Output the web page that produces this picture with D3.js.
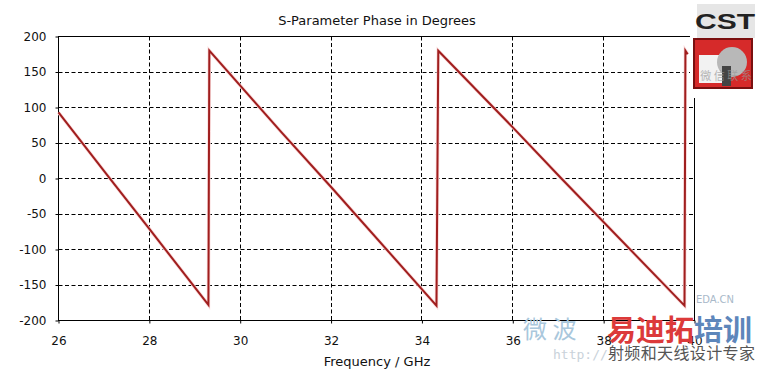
<!DOCTYPE html>
<html>
<head>
<meta charset="utf-8">
<script src="https://cdn.jsdelivr.net/npm/d3@7"></script>
<style>
  body { margin: 0; background: #fff; }
  svg { display: block; font-family: "DejaVu Sans", sans-serif; }
</style>
</head>
<body>
<div id="chart"></div>
<script>
// phase curve (GHz / degrees)
var freqs = [26, 27.12, 28.0, 29.30,
             29.32, 30.91, 32.0, 34.32,
             34.36, 36.0, 37.07, 39.78,
             39.80, 39.85];
var phase = [93, 1, -71, -178,
             180, 65, -12, -179,
             180, 72, 0, -179,
             180, 175];

var xTicks = [26, 28, 30, 32, 34, 36, 38, 40];
var yTicks = [200, 150, 100, 50, 0, -50, -100, -150, -200];

var margin = {top: 37, right: 70, bottom: 49, left: 59},
    width = 765 - margin.left - margin.right,
    height = 370 - margin.top - margin.bottom;

var svg = d3.select("#chart")
  .append("svg")
  .attr("width", 765)
  .attr("height", 370);

var g = svg.append("g")
  .attr("transform", "translate(" + (margin.left - 0.5) + "," + (margin.top - 0.5) + ")");

var x = d3.scaleLinear().domain([26, 40]).range([0, width]);
var y = d3.scaleLinear().domain([-200, 200]).range([height, 0]);

// dashed grid
g.append("g").selectAll("line")
  .data(xTicks)
  .enter().append("line")
  .attr("x1", function(d) { return Math.round(x(d)); })
  .attr("x2", function(d) { return Math.round(x(d)); })
  .attr("y1", 0).attr("y2", height)
  .attr("stroke", "#000")
  .attr("stroke-dasharray", "4,2.5");

g.append("g").selectAll("line")
  .data(yTicks)
  .enter().append("line")
  .attr("y1", function(d) { return Math.round(y(d)); })
  .attr("y2", function(d) { return Math.round(y(d)); })
  .attr("x1", 0).attr("x2", width)
  .attr("stroke", "#000")
  .attr("stroke-dasharray", "4,2.5");

// frame
g.append("rect")
  .attr("width", Math.round(width))
  .attr("height", Math.round(height))
  .attr("fill", "none")
  .attr("stroke", "#000");

// axes
var yAxis = g.append("g")
  .call(d3.axisLeft(y).tickValues(yTicks).tickSize(3).tickPadding(9)
    .tickFormat(function(d) { return String(d); }));
var xAxis = g.append("g")
  .attr("transform", "translate(0," + Math.round(height) + ")")
  .call(d3.axisBottom(x).tickValues(xTicks).tickSize(3).tickPadding(13)
    .tickFormat(function(d) { return String(d); }));

[yAxis, xAxis].forEach(function(a) {
  a.select(".domain").remove();
  a.selectAll("text")
    .style("font-family", "DejaVu Sans")
    .style("font-size", "12px")
    .attr("fill", "#111");
});

// curve
var line = d3.line()
  .x(function(d, i) { return x(freqs[i]); })
  .y(function(d) { return y(d); });

g.append("path")
  .datum(phase)
  .attr("fill", "none")
  .attr("stroke", "#fadada")
  .attr("stroke-width", 3.5)
  .attr("d", line);

g.append("path")
  .datum(phase)
  .attr("fill", "none")
  .attr("stroke", "#a01e1e")
  .attr("stroke-width", 2)
  .attr("d", line);

// titles
svg.append("text")
  .attr("x", 377).attr("y", 25)
  .attr("text-anchor", "middle")
  .style("font-size", "13px")
  .attr("fill", "#111")
  .text("S-Parameter Phase in Degrees");

svg.append("text")
  .attr("x", 377).attr("y", 366)
  .attr("text-anchor", "middle")
  .style("font-size", "13px")
  .attr("fill", "#111")
  .text("Frequency / GHz");

// CST logo corner
var logo = svg.append("g");
logo.append("rect")
  .attr("x", 690).attr("y", 0).attr("width", 75).attr("height", 98)
  .attr("fill", "#fff");
logo.append("rect")
  .attr("x", 697).attr("y", 4).attr("width", 58).attr("height", 34)
  .attr("fill", "#e6e6e6");
logo.append("text")
  .attr("x", 695).attr("y", 29)
  .attr("textLength", 60)
  .attr("lengthAdjust", "spacingAndGlyphs")
  .style("font-family", "Liberation Sans")
  .style("font-weight", "bold")
  .style("font-size", "22px")
  .attr("fill", "#222")
  .text("CST");
logo.append("rect")
  .attr("x", 694).attr("y", 39).attr("width", 58).attr("height", 49)
  .attr("fill", "#d62a2a")
  .attr("stroke", "#7a1010").attr("stroke-width", 2);
logo.append("rect")
  .attr("x", 699).attr("y", 55).attr("width", 30).attr("height", 28)
  .attr("fill", "#f2f2f2");
logo.append("circle")
  .attr("cx", 732).attr("cy", 62).attr("r", 15)
  .attr("fill", "#b8b8b8");
logo.append("rect")
  .attr("x", 722).attr("y", 66).attr("width", 9).attr("height", 20)
  .attr("fill", "#444");
logo.append("text")
  .attr("x", 726).attr("y", 80)
  .attr("text-anchor", "middle")
  .style("font-family", "Noto Sans CJK SC")
  .style("font-size", "11px")
  .attr("fill", "#999")
  .attr("opacity", 0.7)
  .text("微 信 联 系");

// watermark
var wm = svg.append("g");
wm.append("text")
  .attr("x", 715).attr("y", 303)
  .attr("text-anchor", "middle")
  .style("font-size", "10px")
  .attr("fill", "#a9b9c9")
  .text("EDA.CN");
wm.append("text")
  .attr("x", 523).attr("y", 338)
  .style("font-family", "Noto Sans CJK SC")
  .style("font-size", "24px")
  .attr("fill", "#a9c7dc")
  .text("微  波");
wm.append("text")
  .attr("x", 553).attr("y", 359)
  .style("font-family", "DejaVu Sans Mono")
  .style("font-size", "13px")
  .attr("fill", "#c9d2da")
  .text("http://");
var brand = wm.append("text")
  .attr("x", 607).attr("y", 341)
  .style("font-family", "Noto Sans CJK SC")
  .style("font-weight", "bold")
  .style("font-size", "29px");
brand.append("tspan").attr("fill", "#dc3a3a").text("易迪拓");
brand.append("tspan").attr("fill", "#5d86bb").text("培训");
wm.append("text")
  .attr("x", 608).attr("y", 359)
  .attr("textLength", 147)
  .style("font-family", "Noto Sans CJK SC")
  .style("font-size", "16px")
  .attr("fill", "#555")
  .text("射频和天线设计专家");
</script>
</body>
</html>
